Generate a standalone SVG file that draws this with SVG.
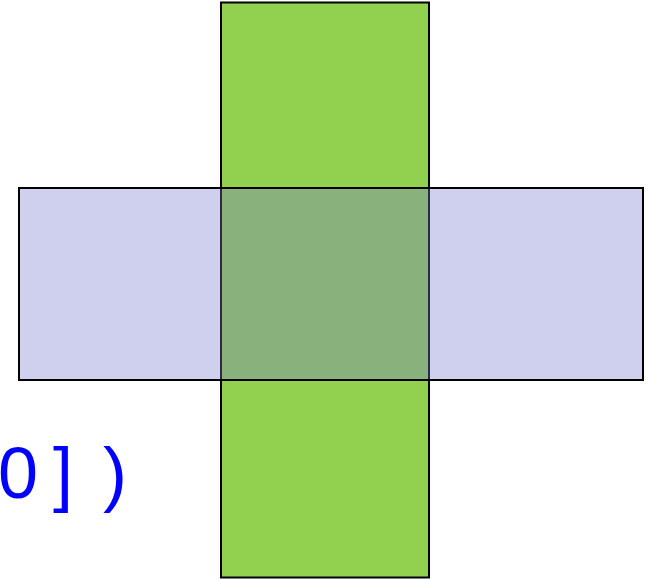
<svg xmlns="http://www.w3.org/2000/svg" width="650" height="579" viewBox="0 0 650 579">
<style>
.shape{stroke:#000;stroke-width:2}
.green{fill:#92D050}
.blue{fill:rgb(118,121,206);fill-opacity:0.35}
.code{font-family:"Liberation Sans",sans-serif;fill:#0000FF}
</style>
<rect width="650" height="579" fill="#fff"/>
<g id="vertical-bar"><rect class="shape green" x="221" y="2.5" width="208" height="575"/></g>
<g id="horizontal-bar"><rect class="shape blue" x="19" y="188" width="624" height="192"/></g>
<text class="code" x="-2 53 103" y="498" font-size="72">0])</text>
</svg>
